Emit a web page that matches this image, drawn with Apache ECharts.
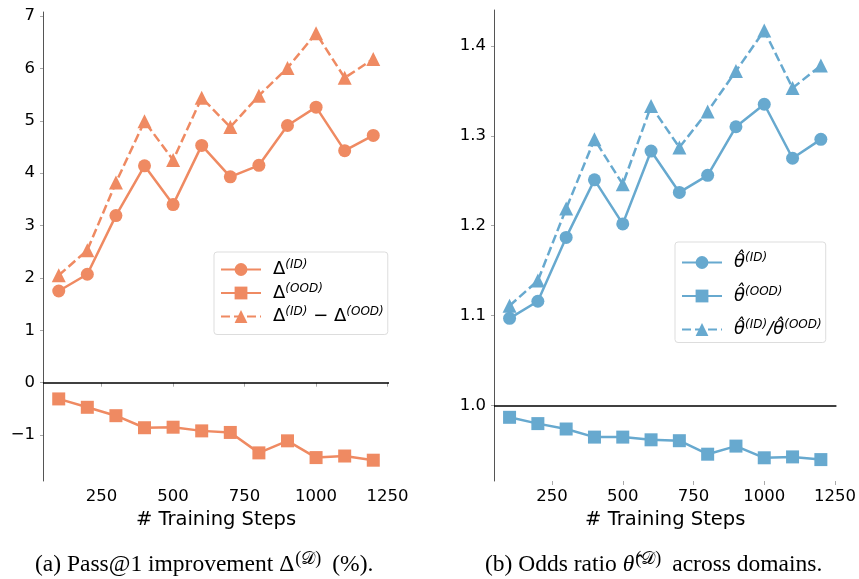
<!DOCTYPE html>
<html>
<head>
<meta charset="utf-8">
<script src="https://cdn.jsdelivr.net/npm/echarts@6/dist/echarts.min.js"></script>
<style>
html,body{margin:0;padding:0;background:#fff;}
#chart{width:859px;height:579px;}
</style>
</head>
<body>
<div id="chart"></div>
<script>
// ---- data ----
const steps = [100, 200, 300, 400, 500, 600, 700, 800, 900, 1000, 1100, 1200];
const deltaID = [1.75, 2.07, 3.19, 4.14, 3.40, 4.53, 3.93, 4.15, 4.91, 5.26, 4.43, 4.72];
const deltaOOD = [-0.31, -0.47, -0.63, -0.86, -0.85, -0.92, -0.95, -1.34, -1.11, -1.43, -1.40, -1.48];
const deltaDiff = [2.05, 2.53, 3.82, 4.99, 4.25, 5.44, 4.88, 5.48, 6.01, 6.67, 5.82, 6.18];
const thetaID = [1.097, 1.116, 1.187, 1.251, 1.202, 1.283, 1.237, 1.256, 1.310, 1.335, 1.275, 1.296];
const thetaOOD = [0.987, 0.980, 0.974, 0.965, 0.965, 0.962, 0.961, 0.946, 0.955, 0.942, 0.943, 0.940];
const thetaRatio = [1.111, 1.139, 1.219, 1.296, 1.246, 1.333, 1.287, 1.327, 1.372, 1.417, 1.353, 1.378];
const xTicks = [250, 500, 750, 1000, 1250];
const yTicksLeft = [-1, 0, 1, 2, 3, 4, 5, 6, 7];
const yTicksRight = [1.0, 1.1, 1.2, 1.3, 1.4];
const refLeft = 0;
const refRight = 1.0;
const xLabel = '# Training Steps';
const captionA = ['(a) Pass@1 improvement Δ', '(𝒟)', '(%).'];
const captionB = ['(b) Odds ratio ', 'θ̂', '(𝒟)', 'across domains.'];

// ---- styling ----
const ORANGE = '#EF8A62';
const BLUE = '#67A9CF';
const pairs = (ys) => steps.map((s, i) => [s, ys[i]]);

const chart = echarts.init(document.getElementById('chart'), null, {renderer: 'canvas'});

function xAxisCfg(gi) {
  return {
    type: 'value', gridIndex: gi, min: 45, max: 1255,
    name: xLabel, nameLocation: 'middle', nameGap: 27,
    nameTextStyle: {fontFamily: 'DejaVu Sans', fontSize: 19.5, color: '#000'},
    axisLine: {show: false},
    axisTick: {show: true, length: 4, lineStyle: {color: '#aaa', width: 1}, customValues: xTicks},
    axisLabel: {fontFamily: 'DejaVu Sans', fontSize: 16.5, color: '#000', margin: 7, customValues: xTicks,
      formatter: (v) => String(v)},
    splitLine: {show: false}
  };
}
function yAxisCfg(gi, min, max, ticks, fmt) {
  return {
    type: 'value', gridIndex: gi, min: min, max: max,
    axisLine: {show: true, onZero: false, lineStyle: {color: '#555', width: 1}},
    axisTick: {show: true, length: 3, lineStyle: {color: '#aaa', width: 1}, customValues: ticks},
    axisLabel: {fontFamily: 'DejaVu Sans', fontSize: 16.5, color: '#000', margin: 8, customValues: ticks, formatter: fmt},
    splitLine: {show: false}
  };
}

function lineSeries(name, gi, ys, color, symbol, size, dashed, ref) {
  const s = {
    name: name, type: 'line', xAxisIndex: gi, yAxisIndex: gi,
    data: pairs(ys), symbol: symbol, symbolSize: size, showSymbol: true,
    lineStyle: {color: color, width: 2.5, type: dashed ? [9, 4] : 'solid'},
    itemStyle: {color: color, borderWidth: 0},
    emphasis: {disabled: true}, animation: false, z: 3
  };
  if (ref !== undefined) {
    s.markLine = {
      silent: true, symbol: 'none', animation: false,
      lineStyle: {color: '#000', width: 1.5, type: 'solid'},
      label: {show: false},
      data: [{yAxis: ref}]
    };
  }
  return s;
}

const legendNames = {
  'Δ(ID)': '{n|Δ}{s|(ID)}',
  'Δ(OOD)': '{n|Δ}{s|(OOD)}',
  'Δ(ID) − Δ(OOD)': '{n|Δ}{s|(ID)}{n| − Δ}{s|(OOD)}',
  'θ̂(ID)': '{t|θ̂}{s|(ID)}',
  'θ̂(OOD)': '{t|θ̂}{s|(OOD)}',
  'θ̂(ID)/θ̂(OOD)': '{t|θ̂}{s|(ID)}{t|/θ̂}{s|(OOD)}'
};
const rich = {
  n: {fontFamily: 'DejaVu Sans', fontSize: 18, color: '#000'},
  t: {fontFamily: 'DejaVu Sans', fontSize: 18, fontStyle: 'italic', color: '#000'},
  s: {fontFamily: 'DejaVu Sans', fontSize: 12, fontStyle: 'italic', color: '#000', padding: [0, 0, 9, 0]}
};
function legendCfg(names, left, top, gap, pad) {
  return {
    data: names, orient: 'vertical', left: left, top: top,
    itemWidth: 40, itemHeight: 16, itemGap: gap,
    padding: pad,
    backgroundColor: '#fff', borderColor: '#ddd', borderWidth: 1, borderRadius: 3,
    selectedMode: false,
    formatter: (nm) => legendNames[nm],
    textStyle: {fontFamily: 'DejaVu Sans', fontSize: 18, color: '#000', padding: [0, 0, 0, 7], rich: rich}
  };
}

const capRich = {
  c: {fontFamily: 'Liberation Serif', fontSize: 23.5, fill: '#000'},
  ci: {fontFamily: 'Liberation Serif', fontSize: 23.5, fontStyle: 'italic', fill: '#000'},
  sup: {fontFamily: 'Liberation Serif', fontSize: 18, fill: '#000', padding: [0, 11, 12, 1]}
};

const option = {
  backgroundColor: '#fff',
  animation: false,
  grid: [
    {left: 43, top: 12, width: 346, height: 469},
    {left: 494, top: 10, width: 344, height: 471}
  ],
  xAxis: [xAxisCfg(0), xAxisCfg(1)],
  yAxis: [
    yAxisCfg(0, -1.877, 7.077, yTicksLeft, (v) => (v < 0 ? '−' + Math.abs(v) : String(v))),
    yAxisCfg(1, 0.9162, 1.4398, yTicksRight, (v) => v.toFixed(1))
  ],
  legend: [
    legendCfg(['Δ(ID)', 'Δ(OOD)', 'Δ(ID) − Δ(OOD)'], 214, 252, 4, [7, 4, 9, 6]),
    legendCfg(['θ̂(ID)', 'θ̂(OOD)', 'θ̂(ID)/θ̂(OOD)'], 675, 242, 14, [10, 4, 4, 6])
  ],
  series: [
    lineSeries('Δ(ID)', 0, deltaID, ORANGE, 'circle', 13, false),
    lineSeries('Δ(OOD)', 0, deltaOOD, ORANGE, 'rect', 13, false, refLeft),
    lineSeries('Δ(ID) − Δ(OOD)', 0, deltaDiff, ORANGE, 'triangle', 14, true),
    lineSeries('θ̂(ID)', 1, thetaID, BLUE, 'circle', 13, false),
    lineSeries('θ̂(OOD)', 1, thetaOOD, BLUE, 'rect', 13, false, refRight),
    lineSeries('θ̂(ID)/θ̂(OOD)', 1, thetaRatio, BLUE, 'triangle', 14, true)
  ],
  graphic: [
    {
      type: 'text', left: 35, top: 550, silent: true,
      style: {
        text: '{c|' + captionA[0] + '}{sup|' + captionA[1] + '}{c|' + captionA[2] + '}',
        rich: capRich
      }
    },
    {
      type: 'text', left: 485, top: 550, silent: true,
      style: {
        text: '{c|' + captionB[0] + '}{ci|' + captionB[1] + '}{sup|' + captionB[2] + '}{c|' + captionB[3] + '}',
        rich: capRich
      }
    }
  ]
};
chart.setOption(option);
</script>
</body>
</html>
